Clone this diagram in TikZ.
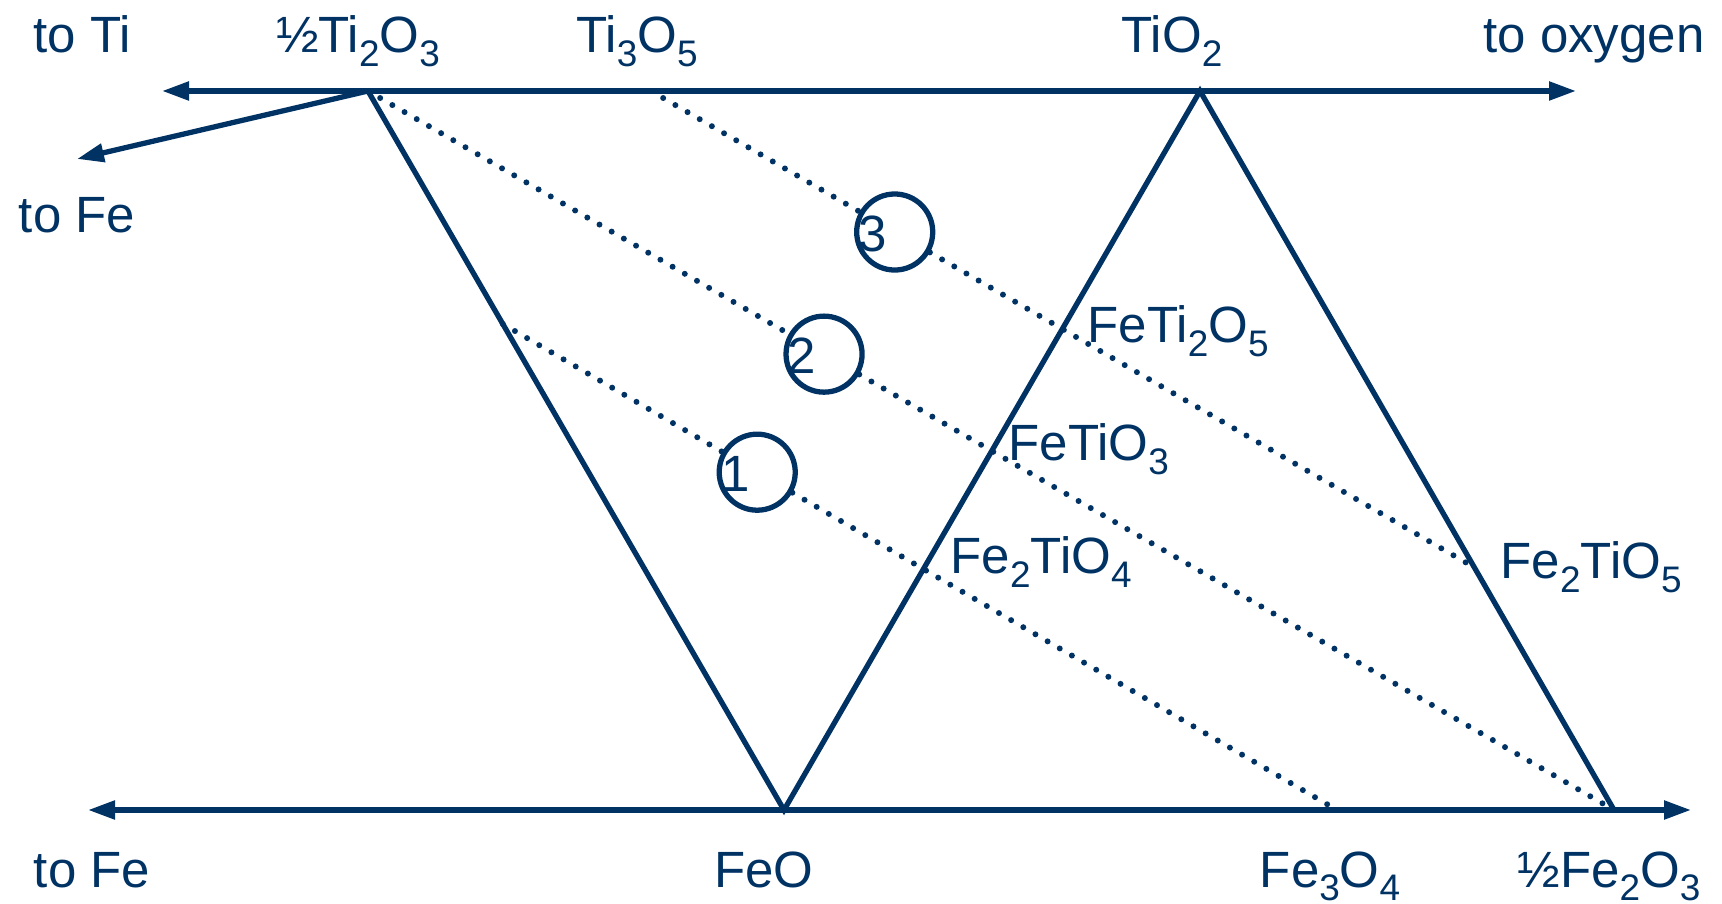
\documentclass[tikz,border=0pt]{standalone}
\usepackage{fontspec}
\setmainfont{Liberation Sans}
\usetikzlibrary{
  arrows.meta,
  positioning,
  calc
}
\definecolor{navy}{RGB}{0,50,100}
\newcommand{\chemsub}[1]{\raisebox{-0.5ex}{\fontsize{10.5}{12}\selectfont #1}}

\begin{document}
\begin{tikzpicture}
  [
    x=0.01cm, y=-0.01cm,
    >={Triangle[length=0.27cm,width=0.18cm]},
    every node/.style={text=navy, font=\fontsize{14.5}{16}\selectfont, inner sep=0pt},
    phase/.style={draw=navy, line width=1.5pt, line join=miter},
    axis/.style={phase, <->},
    tieline/.style={draw=navy, line width=1.7pt, line cap=round, dash pattern=on 0pt off 4pt},
    marker/.style={circle, draw=navy, line width=1.5pt, minimum size=0.76cm},
    chem/.style={anchor=base},
    side/.style={anchor=base west},
  ]
  \useasboundingbox (0,0) rectangle (1722,904);
  % \draw[help lines] grid(10,10);

  % points on the oxide line and the iron oxide line
  \coordinate (ti2o3) at (368,91);
  \coordinate (ti3o5) at (651,91);
  \coordinate (tio2) at (1200,91);
  \coordinate (feo) at (784,810);
  \coordinate (fe3o4) at (1337,810);
  \coordinate (fe2o3) at (1614,810);
  \coordinate (fe2tio4) at ($(ti2o3)!0.324!(feo)$);
  \coordinate (fe2tio5) at ($(tio2)!0.6626!(fe2o3)$);

  \coordinate (tiend) at (162,91);
  \coordinate (oxend) at (1576,91);
  \coordinate (feendtop) at (77,159);
  \coordinate (feendbot) at (88,810);
  \coordinate (fe2o3end) at (1691,810);

  % axes
  \draw[axis] (tiend) -- (oxend);
  \draw[axis] (feendbot) -- (fe2o3end);
  \draw[phase, ->] (ti2o3) -- (feendtop);

  % phase boundaries
  \draw[phase] (ti2o3) -- (feo) -- (tio2) -- (fe2o3);

  % reduction paths
  \node[marker] (c1) at ($(fe2tio4)!0.305!(fe3o4)$) {};
  \node[marker] (c2) at ($(ti2o3)!0.366!(fe2o3)$) {};
  \node[marker] (c3) at ($(ti3o5)!0.296!(fe2tio5)$) {};
  \node (n1) at ([xshift=-0.22cm,yshift=-0.02cm]c1.center) {1};
  \node (n2) at ([xshift=-0.22cm,yshift=-0.02cm]c2.center) {2};
  \node (n3) at ([xshift=-0.22cm,yshift=-0.02cm]c3.center) {3};

  \draw[tieline] (fe2tio4) -- (c1) -- (fe3o4);
  \draw[tieline] (ti2o3) -- (c2) -- (fe2o3);
  \draw[tieline] (ti3o5) -- (c3) -- (fe2tio5);

  % labels
  \node[chem] (lti) at (82,53) {to Ti};
  \node[chem] (lti2o3) at (358,53) {½Ti\chemsub{2}O\chemsub{3}};
  \node[chem] (lti3o5) at (637,53) {Ti\chemsub{3}O\chemsub{5}};
  \node[chem] (ltio2) at (1172,53) {TiO\chemsub{2}};
  \node[chem] (lox) at (1594,53) {to oxygen};
  \node[chem] (lfetop) at (77,233) {to Fe};
  \node[chem] (lfebot) at (92,887) {to Fe};
  \node[chem] (lfeo) at (764,887) {FeO};
  \node[chem] (lfe3o4) at (1330,887) {Fe\chemsub{3}O\chemsub{4}};
  \node[chem] (lfe2o3) at (1609,887) {½Fe\chemsub{2}O\chemsub{3}};
  \node[side] (lfeti2o5) at (1087,343) {FeTi\chemsub{2}O\chemsub{5}};
  \node[side] (lfetio3) at (1008,461) {FeTiO\chemsub{3}};
  \node[side] (lfe2tio4) at (950,574) {Fe\chemsub{2}TiO\chemsub{4}};
  \node[side] (lfe2tio5) at (1500,579) {Fe\chemsub{2}TiO\chemsub{5}};
\end{tikzpicture}
\end{document}
